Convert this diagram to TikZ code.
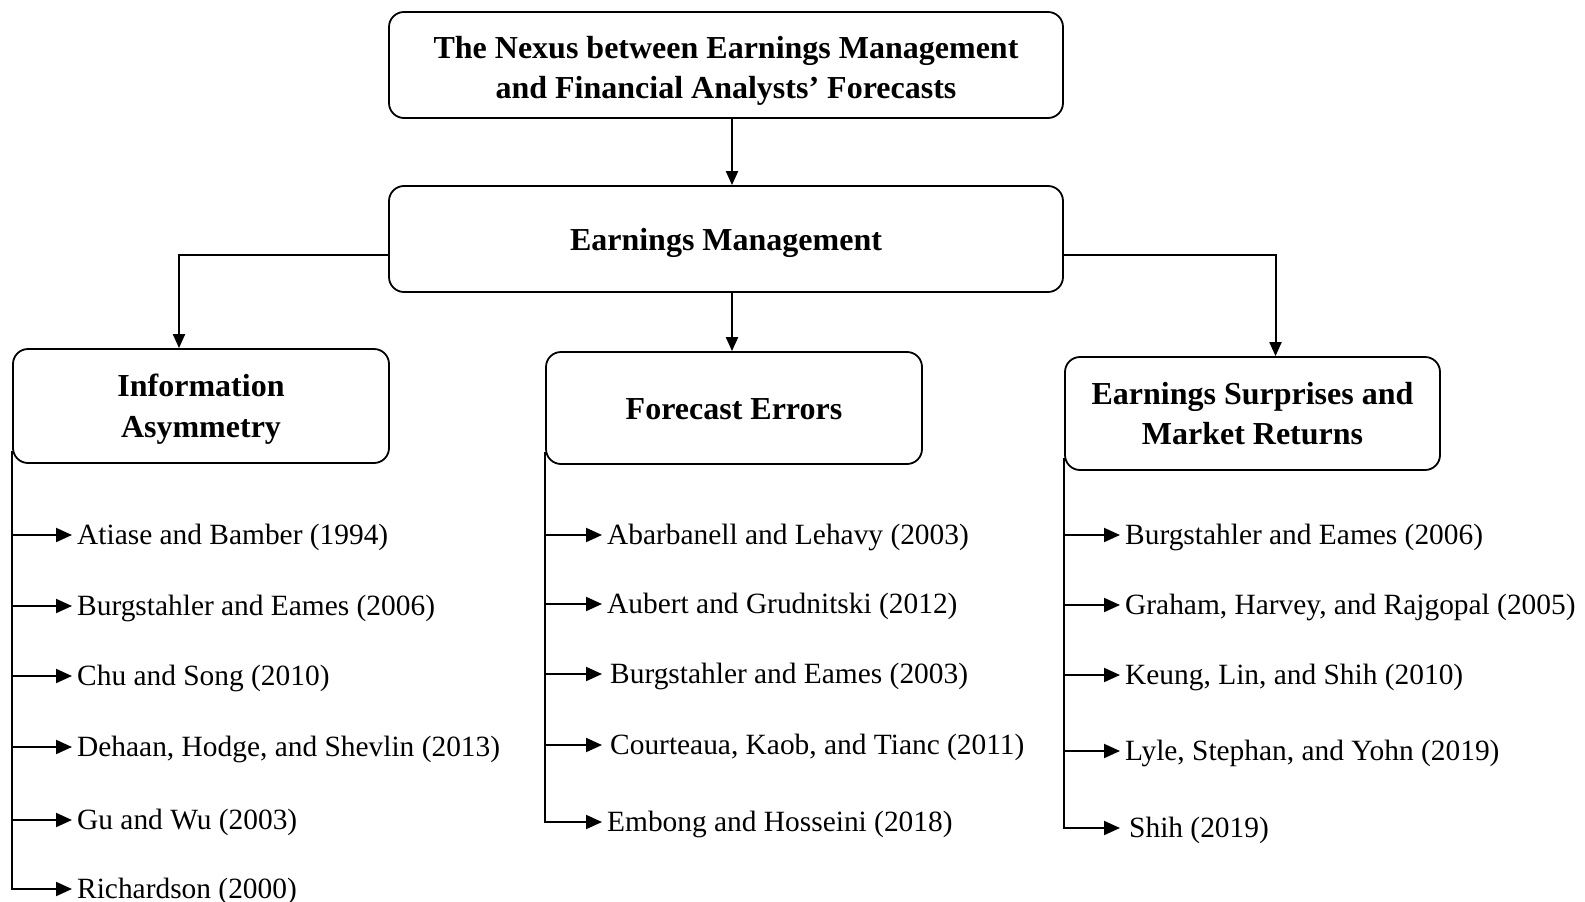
\documentclass[tikz,border=0pt]{standalone}
\usepackage{fontspec}
\setmainfont{Liberation Serif}
\usetikzlibrary{arrows.meta}
\newcommand{\dropby}[1]{\rule{0pt}{\dimexpr\fontcharht\font`\(+2\dimexpr#1\relax\relax}}
\begin{document}
\begin{tikzpicture}[x=1pt,y=-1pt,
  box/.style={draw, line width=1.8pt, rounded corners=15pt, align=center,
    font=\fontsize{32}{40.5}\selectfont\bfseries, inner sep=0pt},
  leaf/.style={anchor=west, inner xsep=5pt, inner ysep=0pt, text height=19pt,
    text depth=0pt, font=\fontsize{29.4}{35}\selectfont},
  conn/.style={line width=2pt},
  arr/.style={conn, -{Triangle[length=14pt,width=12pt]}},
  larr/.style={conn, -{Triangle[length=16pt,width=14pt]}}
]
\useasboundingbox (0,0) rectangle (1585,902);

\node[box, minimum width=674pt, minimum height=106pt] (top) at (726,65)
  {\dropby{6.5pt}The Nexus between Earnings Management\\and Financial Analysts’ Forecasts};
\node[box, minimum width=674pt, minimum height=106pt] (em) at (726,239)
  {\dropby{5pt}Earnings Management};
\node[box, minimum width=376pt, minimum height=114pt] (info) at (201,406)
  {\dropby{4pt}Information\\Asymmetry};
\node[box, minimum width=376pt, minimum height=112pt] (fe) at (734,408)
  {\dropby{1pt}Forecast Errors};
\node[box, minimum width=375pt, minimum height=113pt] (es) at (1252.5,413.5)
  {Earnings Surprises and\\Market Returns};

\draw[arr] ([xshift=6pt]top.south) -- ([xshift=6pt]top.south |- em.north);
\draw[arr] ([yshift=-16pt]em.west) -| ([xshift=-22pt]info.north);
\draw[arr] ([xshift=-2pt]fe.north |- em.south) -- ([xshift=-2pt]fe.north);
\draw[arr] ([yshift=-16pt]em.east) -| ([xshift=23pt]es.north);

% Information Asymmetry
\node[leaf] (i1) at (72,535) {Atiase and Bamber (1994)};
\node[leaf] (i2) at (72,606) {Burgstahler and Eames (2006)};
\node[leaf] (i3) at (72,676) {Chu and Song (2010)};
\node[leaf] (i4) at (72,747) {Dehaan, Hodge, and Shevlin (2013)};
\node[leaf] (i5) at (72,820) {Gu and Wu (2003)};
\node[leaf] (i6) at (72,889) {Richardson (2000)};
\draw[larr] ([yshift=13pt]info.south west) |- (i6.west);
\foreach \n in {i1,i2,i3,i4,i5} \draw[larr] (info.west |- \n.west) -- (\n.west);

% Forecast Errors
\node[leaf] (f1) at (602,535) {Abarbanell and Lehavy (2003)};
\node[leaf] (f2) at (602,604) {Aubert and Grudnitski (2012)};
\node[leaf, inner xsep=8pt] (f3) at (602,674) {Burgstahler and Eames (2003)};
\node[leaf, inner xsep=8pt] (f4) at (602,745) {Courteaua, Kaob, and Tianc (2011)};
\node[leaf] (f5) at (602,822) {Embong and Hosseini (2018)};
\draw[larr] ([yshift=13pt]fe.south west) |- (f5.west);
\foreach \n in {f1,f2,f3,f4} \draw[larr] (fe.west |- \n.west) -- (\n.west);

% Earnings Surprises and Market Returns
\node[leaf] (e1) at (1120,535) {Burgstahler and Eames (2006)};
\node[leaf] (e2) at (1120,605) {Graham, Harvey, and Rajgopal (2005)};
\node[leaf] (e3) at (1120,675) {Keung, Lin, and Shih (2010)};
\node[leaf] (e4) at (1120,751) {Lyle, Stephan, and Yohn (2019)};
\node[leaf, inner xsep=9pt] (e5) at (1120,828) {Shih (2019)};
\draw[larr] ([yshift=13pt]es.south west) |- (e5.west);
\foreach \n in {e1,e2,e3,e4} \draw[larr] (es.west |- \n.west) -- (\n.west);
\end{tikzpicture}
\end{document}
